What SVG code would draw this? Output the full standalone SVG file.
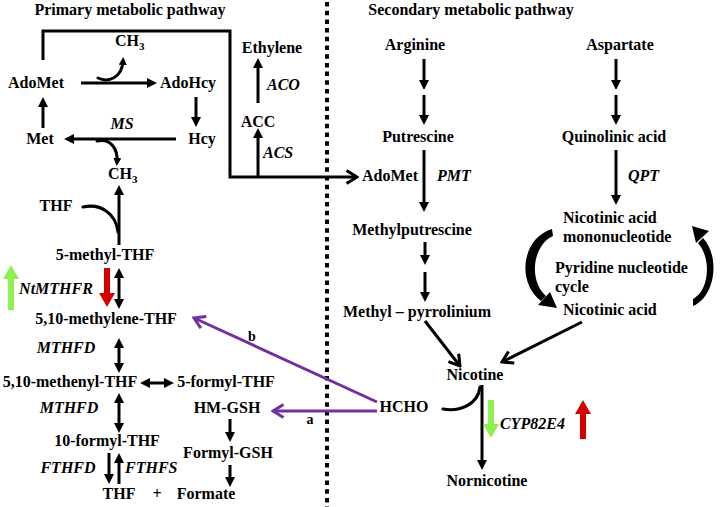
<svg xmlns="http://www.w3.org/2000/svg" width="722" height="507" viewBox="0 0 722 507">
<style>
.t{font-family:"Liberation Serif","Times New Roman",serif;font-weight:bold;font-size:16px;fill:#000}
.i{font-style:italic}
.c{text-anchor:middle}
.sm{font-size:14px}
.ln{stroke:#000;stroke-width:3;fill:none}
.f{marker-end:url(#fh)}
.d{marker-start:url(#fh);marker-end:url(#fh)}
.o{marker-end:url(#oh)}
.pu{stroke:#7030a0;stroke-width:3;fill:none;marker-end:url(#ph)}
.rd{stroke:#d40000;stroke-width:6;fill:none;marker-end:url(#rh)}
.gr{stroke:#8ef04e;stroke-width:6;fill:none;marker-end:url(#gh)}
.cv{stroke:#000;stroke-width:3;fill:none;stroke-linecap:round}
</style>
<defs>
<marker id="fh" viewBox="0 0 10 10" refX="5" refY="5" markerWidth="10" markerHeight="10" markerUnits="userSpaceOnUse" orient="auto-start-reverse"><path d="M0,0 L10,5 L0,10 z" fill="#000"/></marker>
<marker id="sh" viewBox="0 0 8 8" refX="4" refY="4" markerWidth="8" markerHeight="8" markerUnits="userSpaceOnUse" orient="auto"><path d="M0,0 L8,4 L0,8 z" fill="#000"/></marker>
<marker id="oh" viewBox="0 0 14 16" refX="12" refY="8" markerWidth="14" markerHeight="16" markerUnits="userSpaceOnUse" orient="auto"><path d="M1.5,1.5 L12,8 L1.5,14.5" fill="none" stroke="#000" stroke-width="3"/></marker>
<marker id="ph" viewBox="0 0 14 16" refX="12" refY="8" markerWidth="14" markerHeight="16" markerUnits="userSpaceOnUse" orient="auto"><path d="M1.5,1.5 L12,8 L1.5,14.5" fill="none" stroke="#7030a0" stroke-width="3"/></marker>
<marker id="rh" viewBox="0 0 14 16" refX="7" refY="8" markerWidth="14" markerHeight="16" markerUnits="userSpaceOnUse" orient="auto"><path d="M0,0 L14,8 L0,16 z" fill="#d40000"/></marker>
<marker id="gh" viewBox="0 0 14 16" refX="7" refY="8" markerWidth="14" markerHeight="16" markerUnits="userSpaceOnUse" orient="auto"><path d="M0,0 L14,8 L0,16 z" fill="#8ef04e"/></marker>
</defs>
<rect width="722" height="507" fill="#fff"/>

<g id="titles">
<text class="t c" x="130" y="15">Primary metabolic pathway</text>
<text class="t c" x="471" y="15">Secondary metabolic pathway</text>
</g>
<line id="divider" x1="327" y1="2" x2="327" y2="507" stroke="#000" stroke-width="4" stroke-dasharray="4.5 4.2"/>

<g id="connectors">
<path class="ln o" d="M43,60 V31 H230 V177 H357"/>
<line class="ln f" x1="81" y1="83" x2="152" y2="83"/>
<line class="ln f" x1="196" y1="97" x2="196" y2="122"/>
<line class="ln f" x1="176" y1="139" x2="69" y2="139"/>
<line class="ln f" x1="43" y1="128" x2="43" y2="102"/>
<line class="ln f" x1="119" y1="245" x2="119" y2="190"/>
<line class="ln d" x1="119" y1="273" x2="119" y2="304"/>
<line class="ln d" x1="119" y1="343" x2="119" y2="368"/>
<line class="ln d" x1="145" y1="383" x2="169" y2="383"/>
<line class="ln d" x1="119" y1="398" x2="119" y2="428"/>
<line class="ln f" x1="109" y1="453" x2="109" y2="479"/>
<line class="ln f" x1="119" y1="484" x2="119" y2="458"/>
<line class="ln f" x1="230" y1="419" x2="230" y2="437"/>
<line class="ln f" x1="230" y1="465" x2="230" y2="482"/>
<line class="ln f" x1="258" y1="177" x2="258" y2="133"/>
<line class="ln f" x1="258" y1="103" x2="258" y2="63"/>
<line class="ln f" x1="424" y1="59" x2="424" y2="85"/>
<line class="ln f" x1="424" y1="95" x2="424" y2="120"/>
<line class="ln f" x1="424" y1="150" x2="424" y2="207"/>
<line class="ln f" x1="425" y1="242" x2="425" y2="260"/>
<line class="ln f" x1="425" y1="272" x2="425" y2="297"/>
<line class="ln f" x1="616" y1="59" x2="616" y2="85"/>
<line class="ln f" x1="616" y1="95" x2="616" y2="120"/>
<line class="ln f" x1="616" y1="150" x2="616" y2="200"/>
<line class="ln f" x1="482" y1="385" x2="482" y2="465" stroke-width="3.5"/>
<line class="ln o" x1="425" y1="321" x2="460" y2="366"/>
<line class="ln o" x1="582" y1="322" x2="502" y2="362"/>
<line class="pu" x1="377" y1="402" x2="194" y2="318"/>
<line class="pu" x1="377" y1="411" x2="273" y2="411"/>
<path class="cv" d="M98,78 C108,83 122,78 123,61" marker-end="url(#sh)"/>
<path class="cv" d="M97,141 C110,138 118,148 117,162" marker-end="url(#sh)"/>
<path class="cv" d="M83,207 C101,203 116,214 118,232"/>
<path class="cv" d="M443,409 C459,412 478,405 480,387" stroke-width="5"/>
<path d="M552,229 C522,238 516,282 541,301 L546,296 C528,280 533,245 553,236 Z" fill="#000"/>
<path d="M557,308 L538,305 L550,292 Z" fill="#000"/>
<path d="M693,306 C716,296 720,256 703,238 L698,243 C712,259 709,291 693,299 Z" fill="#000"/>
<path d="M692,226 L709,231 L696,243 Z" fill="#000"/>
<line class="gr" x1="11" y1="310" x2="11" y2="272"/>
<line class="rd" x1="107" y1="268" x2="107" y2="300"/>
<line class="gr" x1="491" y1="400" x2="491" y2="431"/>
<line class="rd" x1="583" y1="439" x2="583" y2="407"/>
</g>

<g id="n-adomet"><text class="t c" x="36" y="88">AdoMet</text></g>
<g id="n-adohcy"><text class="t c" x="188" y="88">AdoHcy</text></g>
<g id="n-ch3-top"><text class="t" x="115" y="46">CH<tspan font-size="11" dy="4">3</tspan></text></g>
<g id="n-met"><text class="t c" x="40" y="144">Met</text></g>
<g id="n-hcy"><text class="t c" x="202" y="144">Hcy</text></g>
<g id="e-ms"><text class="t i c" x="122" y="129">MS</text></g>
<g id="n-ch3-low"><text class="t" x="108" y="179">CH<tspan font-size="11" dy="4">3</tspan></text></g>
<g id="n-thf"><text class="t c" x="56" y="211">THF</text></g>
<g id="n-5methylthf"><text class="t c" x="105" y="260">5-methyl-THF</text></g>
<g id="e-ntmthfr"><text class="t i c" x="56" y="294">NtMTHFR</text></g>
<g id="n-methylene"><text class="t c" x="106" y="324">5,10-methylene-THF</text></g>
<g id="e-mthfd1"><text class="t i c" x="66" y="353">MTHFD</text></g>
<g id="n-methenyl"><text class="t c" x="70" y="387">5,10-methenyl-THF</text></g>
<g id="n-5formyl"><text class="t c" x="226" y="387">5-formyl-THF</text></g>
<g id="e-mthfd2"><text class="t i c" x="69" y="413">MTHFD</text></g>
<g id="n-10formyl"><text class="t c" x="107" y="446">10-formyl-THF</text></g>
<g id="e-fthfd"><text class="t i c" x="68" y="473">FTHFD</text></g>
<g id="e-fthfs"><text class="t i" x="125" y="473">FTHFS</text></g>
<g id="n-thf-formate"><text class="t c" x="119" y="499">THF</text><text class="t c" x="157" y="499">+</text><text class="t c" x="206" y="499">Formate</text></g>
<g id="n-hmgsh"><text class="t c" x="227" y="413">HM-GSH</text></g>
<g id="n-formylgsh"><text class="t c" x="228" y="458">Formyl-GSH</text></g>
<g id="n-hcho"><text class="t c" x="404" y="412">HCHO</text></g>
<g id="l-a"><text class="t sm c" x="310" y="424">a</text></g>
<g id="l-b"><text class="t sm c" x="252" y="341">b</text></g>
<g id="n-ethylene"><text class="t c" x="272" y="53">Ethylene</text></g>
<g id="e-aco"><text class="t i" x="267" y="90">ACO</text></g>
<g id="n-acc"><text class="t c" x="258" y="127">ACC</text></g>
<g id="e-acs"><text class="t i" x="263" y="158">ACS</text></g>
<g id="n-adomet-r"><text class="t" x="362" y="181">AdoMet</text></g>
<g id="e-pmt"><text class="t i" x="437" y="181">PMT</text></g>
<g id="n-arginine"><text class="t c" x="415" y="50">Arginine</text></g>
<g id="n-aspartate"><text class="t c" x="620" y="50">Aspartate</text></g>
<g id="n-putrescine"><text class="t c" x="418" y="142">Putrescine</text></g>
<g id="n-quinolinic"><text class="t c" x="614" y="142">Quinolinic acid</text></g>
<g id="e-qpt"><text class="t i" x="628" y="181">QPT</text></g>
<g id="n-methylputrescine"><text class="t c" x="412" y="235">Methylputrescine</text></g>
<g id="n-pyrrolinium"><text class="t c" x="417" y="317">Methyl – pyrrolinium</text></g>
<g id="n-namn"><text class="t" x="563" y="223">Nicotinic acid</text><text class="t" x="563" y="242">mononucleotide</text></g>
<g id="l-cycle"><text class="t" x="555" y="273">Pyridine nucleotide</text><text class="t" x="555" y="292">cycle</text></g>
<g id="n-nicotinic"><text class="t" x="563" y="315">Nicotinic acid</text></g>
<g id="n-nicotine"><text class="t c" x="475" y="380">Nicotine</text></g>
<g id="e-cyp"><text class="t i" x="500" y="429">CYP82E4</text></g>
<g id="n-nornicotine"><text class="t c" x="487" y="486">Nornicotine</text></g>
</svg>
